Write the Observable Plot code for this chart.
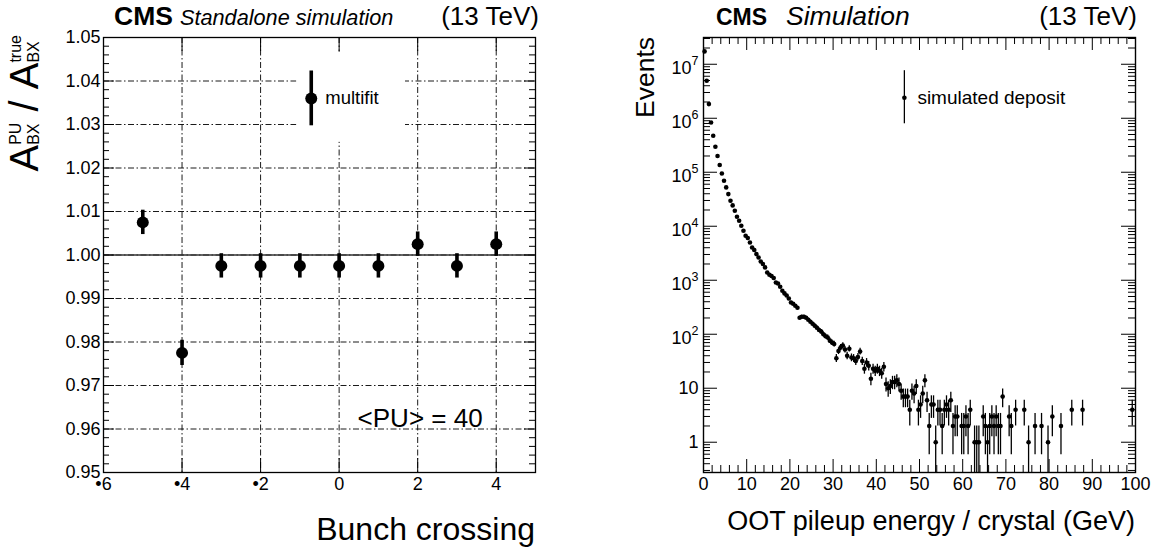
<!DOCTYPE html>
<html><head><meta charset="utf-8">
<script src="https://cdn.jsdelivr.net/npm/d3@7"></script>
<script src="https://cdn.jsdelivr.net/npm/@observablehq/plot@0.6"></script>
<style>
body{margin:0;background:#fff;}
#wrap{position:relative;width:1156px;height:552px;overflow:hidden;background:#fff;}
#wrap svg{position:absolute;top:0;}
</style></head><body><div id="wrap"></div>
<script>
// ---------- Left panel data ----------
const bunchCrossing = [-5, -4, -3, -2, -1, 0, 1, 2, 3, 4];
const ampRatio      = [1.0075, 0.9775, 0.9975, 0.9975, 0.9975, 0.9975, 0.9975, 1.0025, 0.9975, 1.0025];
const ampRatioErr   = [0.0028, 0.0029, 0.0028, 0.0028, 0.0028, 0.0028, 0.0028, 0.0028, 0.0028, 0.0028];
const leftYTicks = [0.95, 0.96, 0.97, 0.98, 0.99, 1.00, 1.01, 1.02, 1.03, 1.04, 1.05];
const leftXTicks = [-6, -4, -2, 0, 2, 4];
const leftXTickLabels = ["•6", "•4", "•2", "0", "2", "4"];
const leftLegendPos = [-0.71, 1.036];
const leftLegendErr = 0.0063;
const leftLegendLabel = "multifit";
const leftLegendBoxX = [-1.08, 1.69];
const leftLegendBoxY = [1.0259, 1.0466];

// ---------- Right panel data (0.5 GeV bins, 0-100 GeV) ----------
const binWidth = 0.5;
const events = [
  17300000, 4940000, 1830000, 836000, 474000, 296000, 200000, 136000, 95000, 69700,
  52400, 39400, 29600, 24300, 19400, 15000, 12600, 10200, 8260, 6670,
  6040, 5010, 4050, 3620, 3050, 2640, 2230, 2000, 1730, 1390,
  1260, 1200, 1100, 910, 870, 760, 640, 570, 520, 460,
  388, 367, 337, 310, 202, 211, 211, 202, 186, 170,
  156, 144, 132, 120, 112, 100, 92, 87, 76, 70,
  66, 36, 49, 57, 62, 52, 40, 54, 37, 36,
  32, 38, 48, 32, 23, 30, 26, 15, 23, 21,
  23, 21, 19, 25, 12, 10, 11, 13, 13, 14,
  12, 9, 7, 7, 7, 4, 9, 8, 11, 4,
  5, 8, 14, 6, 2, 5, 5, 1, 4, 4,
  2, 4, 5, 4, 6, 2, 3, 3, 0, 2,
  2, 3, 2, 4, 0, 1, 1, 1, 0, 3,
  2, 1, 2, 3, 2, 3, 2, 2, 7, 0,
  0, 3, 2, 0, 4, 0, 0, 0, 4, 0,
  1, 0, 0, 2, 0, 0, 2, 0, 0, 1,
  0, 3, 0, 0, 0, 2, 0, 0, 0, 0,
  4, 0, 0, 0, 0, 4, 0, 0, 0, 0,
  0, 0, 0, 0, 0, 0, 0, 0, 0, 0,
  0, 0, 0, 0, 0, 0, 0, 0, 4, 0
];
const rightXMajor = [0, 10, 20, 30, 40, 50, 60, 70, 80, 90, 100];
const rightYMajor = [1, 10, 100, 1e3, 1e4, 1e5, 1e6, 1e7];
const rightLegendPos = [46.5, 2.4e6];
const rightLegendErr = [7.9e5, 7.6e6];
const rightLegendLabel = "simulated deposit";

// ---------- helpers ----------
const FONT = "Liberation Sans, Arial, Helvetica, sans-serif";
const W = 578, H = 552, MT = 37, MB = 80;
const FH = H - MT - MB;

const leftPts = bunchCrossing.map((x, i) => ({x, y: ampRatio[i], e: ampRatioErr[i]}));
const leftYMinor = d3.range(0, 51).filter(i => i % 5).map(i => 0.95 + i * 0.002);

const hist = events.map((n, i) => ({x: (i + 0.5) * binWidth, n})).filter(d => d.n > 0);
const rightXMinor = d3.range(0, 101, 2).filter(v => v % 10);
const rightYMinor = [];
for (let k = -1; k <= 7; k++) for (let m = 2; m <= 9; m++) {
  const v = m * Math.pow(10, k);
  if (v > 0.275 && v < 3.13e7) rightYMinor.push(v);
}

function inTicksY(vals, len, fw, w) {
  return [
    Plot.tickY(vals, {y: d => d, insetRight: fw - len, stroke: "#000", strokeWidth: w}),
    Plot.tickY(vals, {y: d => d, insetLeft: fw - len, stroke: "#000", strokeWidth: w})
  ];
}
function inTicksX(vals, len, fh, w) {
  return [
    Plot.tickX(vals, {x: d => d, insetTop: fh - len, stroke: "#000", strokeWidth: w}),
    Plot.tickX(vals, {x: d => d, insetBottom: fh - len, stroke: "#000", strokeWidth: w})
  ];
}

// ---------- Left plot ----------
const LML = 103, LMR = 43, LFW = W - LML - LMR;
const left = Plot.plot({
  width: W, height: H, marginLeft: LML, marginRight: LMR, marginTop: MT, marginBottom: MB,
  style: {fontFamily: FONT, fontSize: "18px", color: "#000", background: "transparent"},
  x: {domain: [-6, 5]},
  y: {domain: [0.95, 1.05]},
  marks: [
    Plot.gridY(leftYTicks, {stroke: "#000", strokeOpacity: 1, strokeWidth: 0.9, strokeDasharray: "6,2.5,1.5,2.5"}),
    Plot.gridX(leftXTicks, {stroke: "#000", strokeOpacity: 1, strokeWidth: 0.9, strokeDasharray: "6,2.5,1.5,2.5"}),
    Plot.rect([0], {x1: () => leftLegendBoxX[0], x2: () => leftLegendBoxX[1], y1: () => leftLegendBoxY[0], y2: () => leftLegendBoxY[1], fill: "#fff"}),
    Plot.ruleY([1.0], {stroke: "#333", strokeWidth: 1.4}),
    ...inTicksY(leftYTicks, 11, LFW, 1),
    ...inTicksY(leftYMinor, 6, LFW, 1),
    ...inTicksX(leftXTicks, 14, FH, 1),
    Plot.frame({stroke: "#000", strokeWidth: 1.3}),
    Plot.ruleX(leftPts, {x: "x", y1: d => d.y - d.e, y2: d => d.y + d.e, stroke: "#000", strokeWidth: 3.6}),
    Plot.dot(leftPts, {x: "x", y: "y", r: 6, fill: "#000", stroke: null}),
    Plot.ruleX([leftLegendPos], {x: d => d[0], y1: d => d[1] - leftLegendErr, y2: d => d[1] + leftLegendErr, stroke: "#000", strokeWidth: 3.6}),
    Plot.dot([leftLegendPos], {x: d => d[0], y: d => d[1], r: 6, fill: "#000", stroke: null}),
    Plot.text([leftLegendLabel], {x: () => leftLegendPos[0], y: () => leftLegendPos[1], dx: 14, text: d => d, textAnchor: "start", fontSize: 18.5, fill: "#000"}),
    Plot.text(["<PU> = 40"], {x: () => 0.47, y: () => 0.9624, text: d => d, textAnchor: "start", fontSize: 26, fill: "#000"}),
    Plot.axisY(leftYTicks, {tickSize: 0, tickPadding: 3, tickFormat: d => d.toFixed(2), label: null, fontSize: 18}),
    Plot.axisX(leftXTicks, {tickSize: 0, tickPadding: 5, tickFormat: d => leftXTickLabels[leftXTicks.indexOf(d)], label: null, fontSize: 18})
  ]
});
left.style.left = "0px";

// ---------- Right plot ----------
const RML = 125, RMR = 21, RFW = W - RML - RMR;
const right = Plot.plot({
  width: W, height: H, marginLeft: RML, marginRight: RMR, marginTop: MT, marginBottom: MB,
  style: {fontFamily: FONT, fontSize: "18px", color: "#000", background: "transparent"},
  x: {domain: [0, 100]},
  y: {type: "log", domain: [0.275, 3.13e7]},
  marks: [
    ...inTicksY(rightYMajor, 14, RFW, 1),
    ...inTicksY(rightYMinor, 7, RFW, 1),
    ...inTicksX(rightXMajor, 13, FH, 1),
    ...inTicksX(rightXMinor, 7, FH, 1),
    Plot.frame({stroke: "#000", strokeWidth: 1.4}),
    Plot.ruleX(hist, {x: "x", y1: d => Math.max(d.n - Math.sqrt(d.n), 0.1), y2: d => d.n + Math.sqrt(d.n), stroke: "#000", strokeWidth: 1.3, clip: true}),
    Plot.dot(hist, {x: "x", y: "n", r: 2.3, fill: "#000", stroke: null}),
    Plot.ruleX([rightLegendPos], {x: d => d[0], y1: () => rightLegendErr[0], y2: () => rightLegendErr[1], stroke: "#000", strokeWidth: 1.3}),
    Plot.dot([rightLegendPos], {x: d => d[0], y: d => d[1], r: 2.3, fill: "#000", stroke: null}),
    Plot.text([rightLegendLabel], {x: () => rightLegendPos[0], y: () => rightLegendPos[1], dx: 13, text: d => d, textAnchor: "start", fontSize: 19, fill: "#000"}),
    Plot.axisY(rightYMajor, {tickSize: 0, tickPadding: 5, tickFormat: d => d < 100 ? String(d) : "10^" + Math.round(Math.log10(d)), label: null, fontSize: 18}),
    Plot.axisX(rightXMajor, {tickSize: 0, tickPadding: 5, label: null, fontSize: 18})
  ]
});
right.style.left = "578px";

const wrap = document.getElementById("wrap");
wrap.appendChild(left);
wrap.appendChild(right);

// superscript log labels
d3.select(right).selectAll('g[aria-label="y-axis tick label"] text').each(function () {
  const t = this.textContent;
  if (t.includes("^")) {
    const [base, exp] = t.split("^");
    const sel = d3.select(this);
    sel.text(null);
    sel.append("tspan").attr("dy", 4).text(base);
    sel.append("tspan").attr("dy", -9).attr("font-size", 12.5).text(exp);
  }
});

// rich text helper (start-anchored runs)
function rich(svg, runs, anchor) {
  const g = d3.select(svg).append("g").attr("font-family", FONT).attr("fill", "#000").attr("text-anchor", "start");
  let cx = 0, lastStart = 0;
  runs.forEach(r => {
    const start = r.stack ? lastStart : cx;
    const t = g.append("text").attr("x", start).attr("y", r.shift || 0)
      .attr("text-anchor", "start")
      .attr("font-size", r.size)
      .attr("font-style", r.italic ? "italic" : null)
      .attr("font-weight", r.bold ? "bold" : null)
      .style("white-space", "pre")
      .text(r.text);
    const w = t.node().getComputedTextLength();
    if (r.stack) cx = Math.max(cx, start + w);
    else { lastStart = start; cx = start + w; }
  });
  g.attr("transform", anchor(cx));
  return g;
}

// Left y title  A^PU_BX / A^true_BX
rich(left, [
  {text: "A", size: 40},
  {text: "PU", size: 16, shift: -17},
  {text: "BX", size: 16, shift: 1, stack: true},
  {text: " / ", size: 40},
  {text: "A", size: 40},
  {text: "true", size: 16, shift: -17},
  {text: "BX", size: 16, shift: 1, stack: true}
], w => `translate(38,${35 + w}) rotate(-90)`);

// Left x title
rich(left, [{text: "Bunch crossing", size: 32}], w => `translate(${535 - w},540)`);
// Left header
rich(left, [{text: "CMS", size: 26.5, bold: true}], w => `translate(114,25)`);
rich(left, [{text: "Standalone simulation", size: 21.7, italic: true}], w => `translate(180,25)`);
rich(left, [{text: "(13 TeV)", size: 26}], w => `translate(${539 - w},25)`);

// Right titles
rich(right, [{text: "Events", size: 26.5}], w => `translate(76,${37 + w}) rotate(-90)`);
rich(right, [{text: "OOT pileup energy / crystal (GeV)", size: 27}], w => `translate(${557 - w},530)`);
rich(right, [{text: "CMS", size: 23, bold: true}], w => `translate(138,25)`);
rich(right, [{text: "Simulation", size: 26.5, italic: true}], w => `translate(208,25)`);
rich(right, [{text: "(13 TeV)", size: 26}], w => `translate(${559 - w},25)`);
</script>
</body></html>
